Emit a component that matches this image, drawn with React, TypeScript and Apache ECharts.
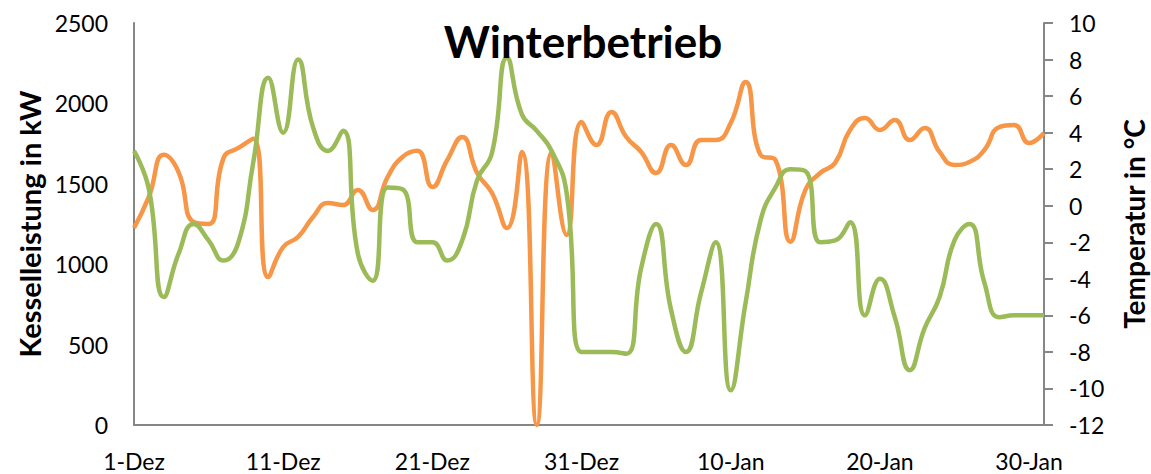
import React, { useEffect, useRef } from "react";
import * as echarts from "echarts";

const decLabels = Array.from({ length: 31 }, (_, i) => `${i + 1}-Dez`);
const janLabels = Array.from({ length: 31 }, (_, i) => `${i + 1}-Jan`);
const categories = [...decLabels, ...janLabels];

// Kesselleistung in kW (left axis), one value per day
const kesselleistung = [
  1225, 1420, 1680, 1570, 1262, 1250, 1660, 1723, 1780, 920,
  1107, 1170, 1294, 1380, 1368, 1461, 1337, 1542, 1667, 1705,
  1480, 1648, 1791, 1567, 1443, 1225, 1698, 0, 1695, 1182,
  1884, 1741, 1947, 1791, 1698, 1567, 1741, 1617, 1772, 1772,
  1878, 2133, 1679, 1648, 1140, 1461, 1567, 1630, 1835, 1909,
  1835, 1897, 1772, 1847, 1698, 1617, 1636, 1710, 1853, 1866,
  1754, 1816,
];

// Temperatur in °C (right axis), one value per day
const temperatur = [
  3.0, 0.9, -5.0, -2.6, -1.0, -1.9, -3.0, -2.0, 2.4, 7.0,
  4.0, 8.0, 4.3, 3.0, 4.1, -2.6, -4.1, 1.0, 0.9, -2.0,
  -2.0, -3.0, -1.9, 1.4, 2.9, 8.1, 5.0, 4.1, 3.0, 0.7,
  -8.0, -8.0, -8.0, -8.1, -3.4, -1.0, -5.7, -8.0, -4.8, -2.0,
  -10.1, -5.3, -0.8, 1.0, 2.0, 1.9, -2.0, -1.9, -0.9, -6.0,
  -4.0, -6.1, -9.0, -6.7, -5.0, -1.9, -1.0, -4.2, -6.1, -6.0,
  -6.0, -6.0,
];

const leftTicks = { min: 0, max: 2500, interval: 500 };
const rightTicks = { min: -12, max: 10, interval: 2 };

const FONT = "Lato";
const AXIS_COLOR = "#868686";

export default function App() {
  const ref = useRef<HTMLDivElement>(null);

  useEffect(() => {
    document.body.style.margin = "0";
    document.body.style.overflow = "hidden";
    if (!ref.current) return;
    const chart = echarts.init(ref.current, undefined, { renderer: "svg" });
    chart.setOption({
      animation: false,
      backgroundColor: "#ffffff",
      title: {
        text: "Winterbetrieb",
        left: 578,
        top: 14,
        textAlign: "center",
        textStyle: { fontFamily: FONT, fontSize: 44, fontWeight: "bold", color: "#000" },
      },
      grid: {
        left: 134,
        right: 107,
        top: 23,
        bottom: 49,
        containLabel: false,
        outerBoundsMode: "none",
      },
      xAxis: {
        type: "category",
        data: categories,
        boundaryGap: false,
        axisLine: { lineStyle: { color: AXIS_COLOR, width: 2 } },
        axisTick: { show: false },
        axisLabel: {
          interval: 9,
          margin: 24,
          color: "#000",
          fontFamily: FONT,
          fontSize: 23,
        },
        splitLine: { show: false },
      },
      yAxis: [
        {
          type: "value",
          ...leftTicks,
          position: "left",
          name: "Kesselleistung in kW",
          nameLocation: "middle",
          nameGap: 90,
          nameTextStyle: { fontFamily: FONT, fontSize: 29, fontWeight: "bold", color: "#000" },
          axisLine: { show: true, lineStyle: { color: AXIS_COLOR, width: 2 } },
          axisTick: { show: false },
          axisLabel: {
            margin: 26,
            color: "#000",
            fontFamily: FONT,
            fontSize: 23,
            formatter: (v: number) => String(v),
          },
          splitLine: { show: false },
        },
        {
          type: "value",
          ...rightTicks,
          position: "right",
          name: "Temperatur in °C",
          nameLocation: "middle",
          nameGap: 76,
          nameRotate: 90,
          nameTextStyle: { fontFamily: FONT, fontSize: 28, fontWeight: "bold", color: "#000" },
          axisLine: { show: true, lineStyle: { color: AXIS_COLOR, width: 2 } },
          axisTick: { show: true, inside: false, length: 9, lineStyle: { color: AXIS_COLOR, width: 2 } },
          axisLabel: {
            margin: 25,
            color: "#000",
            fontFamily: FONT,
            fontSize: 23,
            formatter: (v: number) => String(v),
          },
          splitLine: { show: false },
        },
      ],
      series: [
        {
          type: "line",
          name: "Kesselleistung",
          yAxisIndex: 0,
          data: kesselleistung,
          smooth: 0.5,
          symbol: "none",
          lineStyle: { color: "#F79646", width: 4.5 },
        },
        {
          type: "line",
          name: "Temperatur",
          yAxisIndex: 1,
          data: temperatur,
          smooth: 0.5,
          symbol: "none",
          lineStyle: { color: "#9BBB59", width: 4.5 },
        },
      ],
    });
    return () => chart.dispose();
  }, []);

  return <div ref={ref} style={{ width: 1151, height: 474 }} />;
}
